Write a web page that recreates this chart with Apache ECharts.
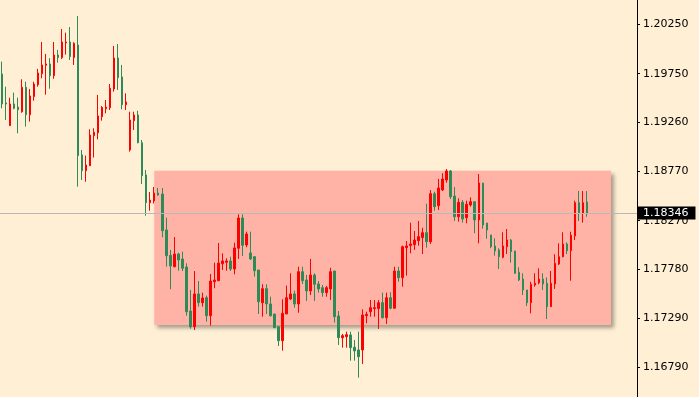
<!DOCTYPE html>
<html>
<head>
<meta charset="utf-8">
<script src="https://cdn.jsdelivr.net/npm/echarts@6/dist/echarts.min.js"></script>
<style>
  html, body { margin: 0; padding: 0; background: #FFEFD5; }
  #content { width: 699px; height: 397px; }
</style>
</head>
<body>
<div id="content"></div>
<script>
// [open, close, low, high]
var ohlc = [
    [1.19747, 1.19445, 1.19401, 1.19871], [1.19455, 1.19445, 1.19284, 1.19619], [1.19227, 1.19445, 1.19224, 1.19508],
    [1.19445, 1.19401, 1.19391, 1.19559], [1.19414, 1.19387, 1.19150, 1.19508], [1.19367, 1.19613, 1.19357, 1.19694],
    [1.19613, 1.19337, 1.19217, 1.19669], [1.19337, 1.19526, 1.19267, 1.19596], [1.19519, 1.19646, 1.19478, 1.19669],
    [1.19639, 1.19757, 1.19619, 1.19798], [1.19750, 1.19838, 1.19703, 1.20069], [1.19835, 1.19848, 1.19539, 1.19949],
    [1.19848, 1.19730, 1.19599, 1.19906], [1.19730, 1.19938, 1.19699, 1.20069], [1.19938, 1.19912, 1.19861, 1.19989],
    [1.19912, 1.20069, 1.19898, 1.20200], [1.20059, 1.20069, 1.19942, 1.20163], [1.20069, 1.19922, 1.19888, 1.20220],
    [1.19912, 1.20056, 1.19838, 1.20066], [1.20039, 1.18925, 1.18612, 1.20331], [1.18932, 1.18773, 1.18679, 1.18982],
    [1.18773, 1.18830, 1.18662, 1.18925], [1.18823, 1.19132, 1.18820, 1.19190], [1.19125, 1.19159, 1.18905, 1.19200],
    [1.19155, 1.19324, 1.19089, 1.19536], [1.19317, 1.19411, 1.19277, 1.19424], [1.19397, 1.19414, 1.19351, 1.19485],
    [1.19407, 1.19603, 1.19384, 1.19646], [1.19596, 1.19908, 1.19569, 1.20029], [1.19908, 1.19710, 1.19586, 1.20049],
    [1.19717, 1.19438, 1.19391, 1.19838], [1.19438, 1.19465, 1.19384, 1.19552], [1.18982, 1.19284, 1.18965, 1.19367],
    [1.19277, 1.19334, 1.19183, 1.19367], [1.19334, 1.19055, 1.19049, 1.19377], [1.19055, 1.18723, 1.18639, 1.19082],
    [1.18730, 1.18451, 1.18320, 1.18780], [1.18451, 1.18478, 1.18370, 1.18559], [1.18468, 1.18548, 1.18443, 1.18609],
    [1.18548, 1.18528, 1.18521, 1.18599], [1.18538, 1.18169, 1.18103, 1.18599], [1.18176, 1.17917, 1.17806, 1.18300],
    [1.17921, 1.17813, 1.17579, 1.17975], [1.17806, 1.17934, 1.17800, 1.18105], [1.17934, 1.17874, 1.17766, 1.17947],
    [1.17884, 1.17790, 1.17763, 1.17957], [1.17803, 1.17353, 1.17313, 1.17840], [1.17360, 1.17202, 1.17182, 1.17572],
    [1.17202, 1.17532, 1.17169, 1.17763], [1.17532, 1.17444, 1.17404, 1.17662], [1.17444, 1.17491, 1.17404, 1.17545],
    [1.17494, 1.17313, 1.17253, 1.17515], [1.17313, 1.17662, 1.17212, 1.17733], [1.17655, 1.17672, 1.17589, 1.17847],
    [1.17665, 1.17843, 1.17662, 1.18045], [1.17836, 1.17864, 1.17773, 1.17941], [1.17851, 1.17864, 1.17766, 1.17891],
    [1.17864, 1.17783, 1.17763, 1.17907], [1.17783, 1.17995, 1.17730, 1.18048], [1.17992, 1.18297, 1.17884, 1.18334],
    [1.18297, 1.18022, 1.17914, 1.18334], [1.18025, 1.18136, 1.18002, 1.18159], [1.17945, 1.17884, 1.17874, 1.18159],
    [1.17907, 1.17766, 1.17706, 1.17914], [1.17773, 1.17454, 1.17330, 1.17773], [1.17444, 1.17585, 1.17303, 1.17629],
    [1.17585, 1.17431, 1.17330, 1.17629], [1.17431, 1.17313, 1.17303, 1.17504], [1.17330, 1.17192, 1.17192, 1.17330],
    [1.17202, 1.17061, 1.17008, 1.17202], [1.17061, 1.17337, 1.16961, 1.17478], [1.17330, 1.17494, 1.17330, 1.17615],
    [1.17481, 1.17532, 1.17471, 1.17740], [1.17532, 1.17431, 1.17394, 1.17565], [1.17431, 1.17756, 1.17343, 1.17806],
    [1.17756, 1.17665, 1.17632, 1.17806], [1.17672, 1.17562, 1.17461, 1.17723], [1.17562, 1.17723, 1.17521, 1.17884],
    [1.17723, 1.17629, 1.17461, 1.17740], [1.17632, 1.17582, 1.17545, 1.17662], [1.17595, 1.17545, 1.17504, 1.17622],
    [1.17545, 1.17595, 1.17504, 1.17612], [1.17582, 1.17756, 1.17471, 1.17796], [1.17763, 1.17303, 1.17243, 1.17763],
    [1.17310, 1.17091, 1.17018, 1.17360], [1.17091, 1.17112, 1.16991, 1.17129], [1.17102, 1.17122, 1.16991, 1.17152],
    [1.17119, 1.16991, 1.16860, 1.17152], [1.16995, 1.16958, 1.16860, 1.17068], [1.16968, 1.16900, 1.16689, 1.17152],
    [1.16968, 1.17320, 1.16827, 1.17377], [1.17313, 1.17327, 1.17236, 1.17353], [1.17353, 1.17394, 1.17303, 1.17471],
    [1.17384, 1.17394, 1.17303, 1.17471], [1.17384, 1.17444, 1.17179, 1.17471], [1.17444, 1.17293, 1.17283, 1.17545],
    [1.17293, 1.17494, 1.17229, 1.17545], [1.17494, 1.17388, 1.17378, 1.17549], [1.17388, 1.17763, 1.17381, 1.17806],
    [1.17763, 1.17696, 1.17655, 1.17806], [1.17696, 1.18008, 1.17605, 1.18018], [1.17998, 1.18015, 1.17716, 1.18065],
    [1.18018, 1.18035, 1.17941, 1.18249], [1.18028, 1.18075, 1.17975, 1.18166], [1.18068, 1.18109, 1.18018, 1.18267],
    [1.18100, 1.18149, 1.17934, 1.18199], [1.18149, 1.18058, 1.17998, 1.18441], [1.18058, 1.18541, 1.18035, 1.18579],
    [1.18541, 1.18411, 1.18370, 1.18562], [1.18421, 1.18599, 1.18377, 1.18689], [1.18579, 1.18689, 1.18569, 1.18747],
    [1.18679, 1.18770, 1.18652, 1.18790], [1.18770, 1.18511, 1.18488, 1.18780], [1.18518, 1.18310, 1.18267, 1.18609],
    [1.18310, 1.18455, 1.18260, 1.18495], [1.18455, 1.18287, 1.18250, 1.18478], [1.18300, 1.18435, 1.18243, 1.18471],
    [1.18428, 1.18461, 1.18411, 1.18505], [1.18461, 1.18277, 1.18143, 1.18461], [1.18277, 1.18649, 1.18042, 1.18740],
    [1.18649, 1.18226, 1.18189, 1.18649], [1.18246, 1.18176, 1.18088, 1.18246], [1.18126, 1.18008, 1.17992, 1.18126],
    [1.18015, 1.17965, 1.17917, 1.18092], [1.17975, 1.17907, 1.17783, 1.17992], [1.17901, 1.18015, 1.17891, 1.18153],
    [1.18008, 1.18075, 1.17934, 1.18186], [1.18075, 1.17958, 1.17847, 1.18085], [1.17965, 1.17740, 1.17733, 1.17965],
    [1.17750, 1.17672, 1.17662, 1.17800], [1.17682, 1.17572, 1.17521, 1.17740], [1.17572, 1.17444, 1.17411, 1.17572],
    [1.17444, 1.17629, 1.17337, 1.17655], [1.17622, 1.17639, 1.17605, 1.17740], [1.17645, 1.17682, 1.17629, 1.17790],
    [1.17682, 1.17632, 1.17572, 1.17740], [1.17639, 1.17404, 1.17280, 1.17699], [1.17404, 1.17639, 1.17404, 1.17763],
    [1.17632, 1.17840, 1.17582, 1.17931], [1.17833, 1.17907, 1.17823, 1.18042], [1.17907, 1.18035, 1.17901, 1.18153],
    [1.18035, 1.17968, 1.17934, 1.18052], [1.17968, 1.18123, 1.17665, 1.18159], [1.18116, 1.18451, 1.18075, 1.18471],
    [1.18451, 1.18350, 1.18267, 1.18569], [1.18344, 1.18451, 1.18250, 1.18569], [1.18458, 1.18346, 1.18310, 1.18569]
];
var yTicks = [1.20250, 1.19750, 1.19260, 1.18770, 1.18270, 1.17780, 1.17290, 1.16790];
var lastPrice = 1.18346;
var zoneTop = 1.18772;
var zoneBottom = 1.17220;
var zoneFrom = 38;
var zoneTo = 152;
var slotCount = 159;

var slots = [];
for (var i = 0; i < slotCount; i++) {
    slots.push(String(i));
}

var myChart = echarts.init(document.getElementById('content'));
var font = 'DejaVu Sans';

option = {
    backgroundColor: '#FFEFD5',
    animation: false,
    grid: {left: 0, right: 62, top: 0, bottom: 0},
    xAxis: {
        type: 'category',
        data: slots,
        boundaryGap: true,
        show: false
    },
    yAxis: {
        type: 'value',
        position: 'right',
        min: 1.16494,
        max: 1.20492,
        scale: true,
        splitLine: {show: false},
        axisLine: {show: true, lineStyle: {color: '#000', width: 1}},
        axisTick: {show: true, length: 3, customValues: yTicks, lineStyle: {color: '#000'}},
        axisLabel: {
            customValues: yTicks,
            margin: 6,
            color: '#000',
            fontFamily: font,
            fontSize: 11,
            formatter: function (v) { return v.toFixed(5); }
        }
    },
    series: [
        {
            // background zone + last price line
            type: 'line',
            data: [],
            z: 1,
            silent: true,
            markArea: {
                silent: true,
                itemStyle: {
                    color: '#FFB3A7',
                    shadowBlur: 4,
                    shadowColor: 'rgba(0,0,0,0.35)',
                    shadowOffsetX: 3,
                    shadowOffsetY: 3
                },
                data: [[{xAxis: zoneFrom, yAxis: zoneTop}, {xAxis: zoneTo, yAxis: zoneBottom}]]
            },
            markLine: {
                silent: true,
                precision: 5,
                symbol: ['none', 'none'],
                lineStyle: {color: '#B8B8B8', width: 1, type: 'solid'},
                label: {
                    show: true,
                    position: 'end',
                    distance: 1,
                    formatter: lastPrice.toFixed(5),
                    backgroundColor: '#000',
                    color: '#fff',
                    fontFamily: font,
                    fontSize: 11,
                    padding: [1, 7, 1, 5]
                },
                data: [{yAxis: lastPrice}]
            }
        },
        {
            type: 'candlestick',
            z: 3,
            data: ohlc,
            barWidth: 2,
            itemStyle: {
                color: '#FF0000',
                color0: '#2E8B57',
                borderColor: '#FF0000',
                borderColor0: '#2E8B57',
                borderWidth: 1
            }
        }
    ]
};
myChart.setOption(option);
</script>
</body>
</html>
